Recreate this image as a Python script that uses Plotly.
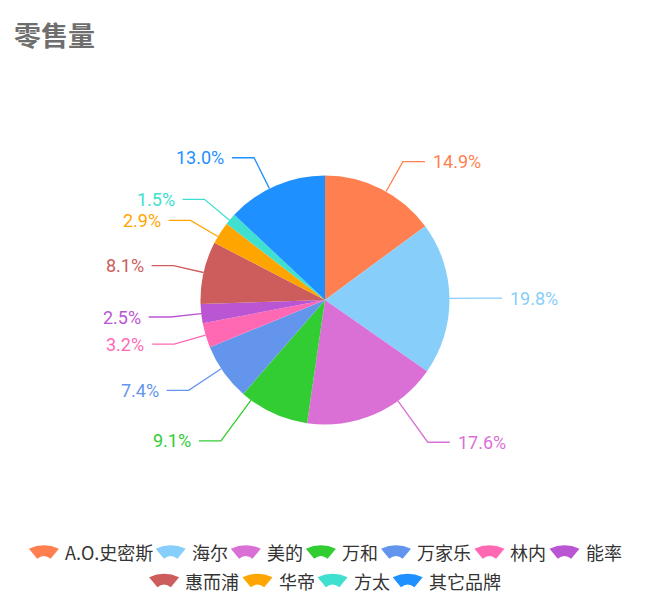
import math
import plotly.graph_objects as go

# datos del gráfico
brands = ["A.O.史密斯", "海尔", "美的", "万和", "万家乐", "林内", "能率",
          "惠而浦", "华帝", "方太", "其它品牌"]
share = [14.9, 19.8, 17.6, 9.1, 7.4, 3.2, 2.5, 8.1, 2.9, 1.5, 13.0]
colors = ["#FF7F50", "#87CEFA", "#DA70D6", "#32CD32", "#6495ED", "#FF69B4",
          "#BA55D3", "#CD5C5C", "#FFA500", "#40E0D0", "#1E90FF"]
title = "零售量"

W, H = 650, 609
OFF = 8                          # margen del <body> en la página
CX, CY, R = 325, 300, 124.5      # centro y radio de la tarta (px de pantalla)
RA = R + 30.5                    # radio hasta el codo de la guía
RB_UP, RB_LOW = 160, 190         # semiejes verticales (estilo echarts)
L2 = 22                          # tramo horizontal
GAP_Y = 21                       # separación mínima entre etiquetas

fig = go.Figure()
fig.add_trace(go.Pie(
    labels=brands, values=share, sort=False, direction="clockwise",
    rotation=0, marker=dict(colors=colors, line=dict(width=0)),
    textinfo="none", hoverinfo="label+percent", showlegend=False,
    domain=dict(x=[(CX - R - OFF) / W, (CX + R - OFF) / W],
                y=[1 - (CY + R - OFF) / H, 1 - (CY - R - OFF) / H]),
))

# ángulos de cada porción (grados, horario desde las 12)
total = sum(share)
items = []
acc = 0.0
for name, v, c in zip(brands, share, colors):
    a0 = acc / total * 360
    acc += v
    a1 = acc / total * 360
    mid = math.radians((a0 + a1) / 2)
    side = 1 if math.sin(mid) >= 0 else -1
    items.append(dict(name=name, pct=v / total * 100, color=c, a0=a0, a1=a1,
                      side=side, y=CY - RA * math.cos(mid)))

# evitar solapes verticales en cada lado
for s in (1, -1):
    lst = sorted([it for it in items if it["side"] == s], key=lambda it: it["y"])
    for i in range(1, len(lst)):
        if lst[i]["y"] < lst[i - 1]["y"] + GAP_Y:
            lst[i]["y"] = lst[i - 1]["y"] + GAP_Y

shapes = []
annotations = []
for it in items:
    dy = it["y"] - CY
    rb = RB_UP if dy < 0 else RB_LOW
    dx = RA * math.sqrt(max(0.0, 1 - dy * dy / (rb * rb)))
    bx = CX + it["side"] * dx
    by = it["y"]
    ex = bx + it["side"] * L2
    # punto del borde más cercano al codo
    ang = math.degrees(math.atan2(bx - CX, CY - by)) % 360
    lo, hi = it["a0"] + 0.3, it["a1"] - 0.3
    ang = min(max(ang, lo), hi) if lo < hi else (it["a0"] + it["a1"]) / 2
    sx = CX + R * math.sin(math.radians(ang))
    sy = CY - R * math.cos(math.radians(ang))
    shapes.append(dict(type="path", xref="x", yref="y", layer="above",
                       path=f"M{sx:.2f},{sy:.2f} L{bx:.2f},{by:.2f} L{ex:.2f},{by:.2f}",
                       line=dict(color=it["color"], width=1.3)))
    annotations.append(dict(
        x=ex + it["side"] * 6, y=by, xref="x", yref="y", showarrow=False,
        text=f"{it['pct']:.1f}%", xanchor="left" if it["side"] > 0 else "right",
        yanchor="middle", font=dict(family="Roboto", size=18, color=it["color"])))


# leyenda con iconos de abanico
def text_w(s):
    w = 0
    for ch in s:
        if ord(ch) > 0x2E80:
            w += 18.3
        elif ch == ".":
            w += 4.7
        elif ch.isupper():
            w += 12.0
        else:
            w += 10.0
    return w


ICON_W = 30
rows = [[]]
row_w = [0.0]
for name, c in zip(brands, colors):
    iw = ICON_W + 5 + text_w(name)
    add = iw if not rows[-1] else iw + 3.5
    if rows[-1] and row_w[-1] + add > 630:
        rows.append([])
        row_w.append(0.0)
        add = iw
    rows[-1].append((name, c, iw))
    row_w[-1] += add

LEG_Y0, LEG_DY = 552, 28.5
for ri, row in enumerate(rows):
    yc = LEG_Y0 + ri * LEG_DY
    x = CX - row_w[ri] / 2
    for name, c, iw in row:
        x0 = x
        shapes.append(dict(
            type="path", xref="x", yref="y", layer="above",
            path=(f"M{x0:.1f},{yc - 3.3:.1f} Q{x0 + 15:.1f},{yc - 10.1:.1f} "
                  f"{x0 + 30:.1f},{yc - 3.3:.1f} L{x0 + 21.7:.1f},{yc + 6.7:.1f} "
                  f"Q{x0 + 15:.1f},{yc + 1.3:.1f} {x0 + 8.3:.1f},{yc + 6.7:.1f} Z"),
            fillcolor=c, line=dict(width=0)))
        annotations.append(dict(
            x=x0 + ICON_W + 4, y=yc, xref="x", yref="y", showarrow=False,
            text=name, xanchor="left", yanchor="middle",
            font=dict(family="Noto Sans CJK SC", size=18, color="#333333")))
        x += iw + 3.5

annotations.append(dict(
    x=12, y=34, xref="x", yref="y", showarrow=False, text=f"<b>{title}</b>",
    xanchor="left", yanchor="middle",
    font=dict(family="Noto Sans CJK SC", size=27, color="#6E6E6E")))

fig.update_layout(
    width=W, height=H, margin=dict(l=0, r=0, t=0, b=0),
    paper_bgcolor="white", plot_bgcolor="white",
    xaxis=dict(range=[OFF, W + OFF], visible=False, fixedrange=True),
    yaxis=dict(range=[H + OFF, OFF], visible=False, fixedrange=True),
    shapes=shapes, annotations=annotations,
)
fig.write_html("out.html")
